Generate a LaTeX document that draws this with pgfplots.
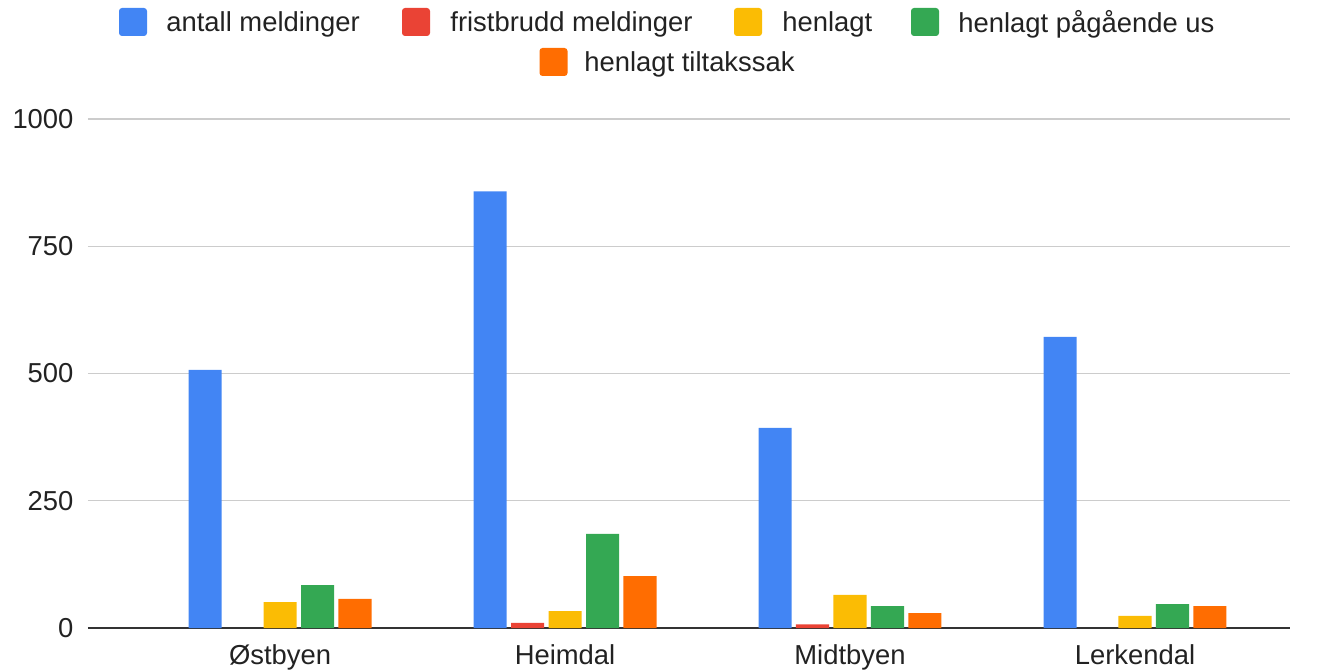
\documentclass[border=0pt]{standalone}
\usepackage{pgfplots}
\pgfplotsset{compat=1.18}
\usepackage{fontspec}
\setmainfont{Liberation Sans}
\definecolor{cblue}{HTML}{4285F4}
\definecolor{cred}{HTML}{EA4335}
\definecolor{cyellow}{HTML}{FBBC04}
\definecolor{cgreen}{HTML}{34A853}
\definecolor{corange}{HTML}{FF6D01}
\definecolor{ctext}{HTML}{222222}
\begin{document}
\fontsize{13.7pt}{16pt}\selectfont
\begin{tikzpicture}
\path[use as bounding box] (0,0) rectangle (659.5pt,335pt);
\begin{axis}[
  at={(44pt,21pt)}, anchor=south west,
  scale only axis, width=601pt, height=254.5pt,
  xmin=-0.674, xmax=3.544, ymin=0, ymax=1000,
  axis line style={draw=none},
  xtick={0,1,2,3},
  xticklabels={Østbyen,Heimdal,Midtbyen,Lerkendal},
  ytick={0,250,500,750,1000},
  major tick length=0pt,
  ymajorgrids, grid style={draw=black!20, line width=0.6pt},
  extra y ticks={0}, extra y tick labels={},
  extra y tick style={grid style={draw=black!80, line width=0.9pt}},
  tick label style={font=\fontsize{13.7pt}{16pt}\selectfont, text=ctext},
  /pgf/number format/assume math mode=true,
  /pgf/number format/1000 sep={},
  yticklabel style={xshift=-2.5pt},
  xticklabel style={yshift=-3.5pt},
  bar width=0.116,
  clip=false,
]
\addplot[ybar, bar shift=-0.263, fill=cblue, draw=none] coordinates {(0,507) (1,858) (2,393) (3,572)};
\addplot[ybar, bar shift=-0.1316, fill=cred, draw=none] coordinates {(1,10) (2,7)};
\addplot[ybar, bar shift=0, fill=cyellow, draw=none] coordinates {(0,51) (1,33) (2,65) (3,24)};
\addplot[ybar, bar shift=0.1316, fill=cgreen, draw=none] coordinates {(0,84) (1,185) (2,43) (3,47)};
\addplot[ybar, bar shift=0.263, fill=corange, draw=none] coordinates {(0,57) (1,102) (2,29) (3,43)};
\end{axis}
% legend
\def\sq{7pt}
\foreach \cx/\cy/\col in {66.5/324/cblue, 208/324/cred, 374/324/cyellow, 462.5/324/cgreen, 276.75/304/corange}{
  \fill[\col, rounded corners=1.5pt] (\cx pt-\sq,\cy pt-\sq) rectangle (\cx pt+\sq,\cy pt+\sq);
}
\node[anchor=west, inner sep=0pt, text=ctext] at (83pt,323pt) {antall meldinger};
\node[anchor=west, inner sep=0pt, text=ctext] at (225pt,323pt) {fristbrudd meldinger};
\node[anchor=west, inner sep=0pt, text=ctext] at (391pt,323pt) {henlagt};
\node[anchor=west, inner sep=0pt, text=ctext] at (479pt,323pt) {henlagt pågående us};
\node[anchor=west, inner sep=0pt, text=ctext] at (292pt,303pt) {henlagt tiltakssak};
\end{tikzpicture}
\end{document}
